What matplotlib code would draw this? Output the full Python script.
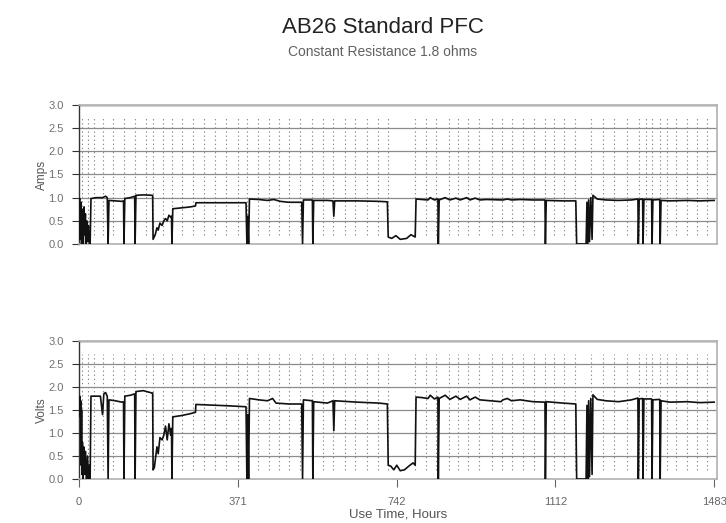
import matplotlib
matplotlib.use("Agg")
import matplotlib.pyplot as plt
import numpy as np

plt.rcParams["font.family"] = ["Liberation Sans", "DejaVu Sans"]

# Hours at which the dotted vertical markers are drawn
marker_hours = [7, 21, 35, 56, 79, 105, 131, 156, 173, 196, 217, 241, 266, 292,
                318, 343, 371, 392, 418, 444, 467, 490, 516, 544, 570, 593, 621,
                644, 673, 698, 722, 785, 810, 834, 864, 885, 908, 934, 965, 988,
                1011, 1037, 1063, 1088, 1109, 1133, 1158, 1196, 1224, 1249, 1280,
                1308, 1324, 1338, 1357, 1373, 1394, 1420, 1443, 1467]

amp_hours = [0, 2, 3, 5, 6, 8, 9, 10, 12, 13, 15, 16, 18, 20, 22, 24, 26, 28,
             40, 55, 62, 66, 68, 70, 85, 100, 104, 105, 107, 120, 130, 131, 133,
             150, 170, 172, 173, 178, 182, 185, 189, 194, 198, 202, 206, 210,
             214, 216, 217, 219, 240, 260, 272, 273, 300, 350, 390, 392, 394,
             396, 398, 420, 440, 455, 470, 490, 520, 522, 524, 545, 546, 548,
             580, 593, 595, 597, 650, 700, 720, 722, 730, 740, 750, 765, 775,
             785, 787, 800, 815, 820, 830, 838, 839, 841, 855, 866, 880, 890,
             905, 913, 925, 936, 950, 990, 1000, 1010, 1030, 1060, 1088, 1089,
             1091, 1130, 1160, 1162, 1184, 1186, 1188, 1190, 1192, 1195, 1198,
             1200, 1210, 1230, 1260, 1290, 1305, 1306, 1308, 1316, 1317, 1319,
             1337, 1338, 1340, 1356, 1357, 1359, 1380, 1420, 1450, 1483]
amps = [0.95, 0.98, 0.1, 0.9, 0.0, 0.75, 0.6, 0.0, 0.8, 0.2, 0.65, 0.0, 0.5,
        0.05, 0.4, 0.0, 0.0, 0.98,
        1.0, 1.0, 1.03, 1.0, 0.0, 0.94, 0.93, 0.92, 0.93, 0.0, 0.98, 1.0, 1.03,
        0.0, 1.05,
        1.06, 1.05, 1.05, 0.1, 0.2, 0.35, 0.3, 0.45, 0.4, 0.5, 0.55, 0.5, 0.62,
        0.58, 0.6, 0.0, 0.76, 0.78, 0.8, 0.82, 0.89, 0.89, 0.89, 0.89, 0.0,
        0.6, 0.0, 0.97, 0.96, 0.94, 0.96, 0.92, 0.9, 0.9, 0.0, 0.95, 0.95, 0.0,
        0.94, 0.94, 0.93, 0.6, 0.93, 0.93, 0.92, 0.91, 0.15, 0.12, 0.18, 0.1,
        0.12, 0.2, 0.15, 0.97, 0.96, 0.95, 1.0, 0.95, 0.97, 0.0, 0.95, 1.0,
        0.95, 0.99, 0.95, 1.0, 0.95, 0.99, 0.95, 0.96, 0.95, 0.97, 0.95, 0.96,
        0.95, 0.95, 0.0, 0.94, 0.93, 0.93, 0.0, 0.0, 0.9, 0.0, 0.95, 0.05, 1.0,
        0.1, 1.05, 0.97, 0.95, 0.94, 0.95, 0.97, 0.0, 0.96, 0.97, 0.0, 0.96,
        0.96, 0.0, 0.95, 0.96, 0.0, 0.94, 0.93, 0.94, 0.93, 0.94]

volt_hours = [0, 1, 2, 3, 4, 5, 6, 7, 8, 9, 11, 13, 15, 17, 20, 22, 24, 26, 28,
              40, 50, 55, 58, 62, 66, 68, 70, 85, 100, 104, 105, 107, 120, 130,
              131, 133, 150, 170, 172, 173, 176, 182, 185, 189, 194, 198, 202,
              206, 210, 214, 216, 217, 219, 240, 260, 272, 273, 300, 350, 390,
              392, 394, 396, 398, 420, 440, 452, 460, 490, 520, 522, 524, 545,
              546, 548, 580, 593, 595, 597, 650, 700, 720, 722, 728, 735, 742,
              750, 760, 770, 780, 785, 787, 800, 815, 820, 830, 838, 839, 841,
              855, 866, 880, 890, 905, 913, 925, 936, 960, 985, 990, 1000, 1010,
              1030, 1060, 1088, 1089, 1091, 1130, 1160, 1162, 1184, 1186, 1188,
              1190, 1192, 1195, 1198, 1200, 1210, 1230, 1260, 1290, 1305, 1306,
              1308, 1316, 1317, 1319, 1337, 1338, 1340, 1356, 1357, 1359, 1380,
              1420, 1450, 1483]
volts = [1.75, 1.4, 1.8, 1.35, 1.7, 0.3, 1.5, 0.1, 0.8, 0.0, 0.7, 0.1, 0.6,
         0.0, 0.5, 0.0, 0.3, 0.0, 1.8,
         1.8, 1.8, 1.4, 1.85, 1.88, 1.8, 0.0, 1.72, 1.7, 1.67, 1.68, 0.0, 1.8,
         1.82, 1.85, 0.0, 1.9, 1.92, 1.87, 1.87, 0.2, 0.25, 0.7, 0.55, 0.9,
         0.85, 0.95, 1.15, 0.85, 1.2, 0.95, 1.1, 0.0, 1.35, 1.38, 1.42, 1.45,
         1.62, 1.61, 1.59, 1.57, 0.0, 1.4, 0.0, 1.75, 1.72, 1.7, 1.75, 1.65,
         1.63, 1.63, 0.0, 1.72, 1.7, 0.0, 1.68, 1.65, 1.7, 1.05, 1.7, 1.67,
         1.65, 1.63, 0.3, 0.28, 0.2, 0.3, 0.18, 0.2, 0.28, 0.35, 0.3, 1.78,
         1.77, 1.75, 1.82, 1.74, 1.78, 0.0, 1.75, 1.82, 1.73, 1.8, 1.73, 1.8,
         1.72, 1.78, 1.72, 1.7, 1.68, 1.72, 1.75, 1.7, 1.72, 1.68, 1.67, 0.0,
         1.68, 1.65, 1.63, 0.0, 0.0, 1.6, 0.0, 1.7, 0.05, 1.75, 0.1, 1.83, 1.73,
         1.7, 1.68, 1.72, 1.76, 0.0, 1.74, 1.75, 0.0, 1.74, 1.74, 0.0, 1.72,
         1.73, 0.0, 1.7, 1.67, 1.68, 1.66, 1.67]

x_ticks = [0, 371, 742, 1112, 1483]
y_ticks = [0.0, 0.5, 1.0, 1.5, 2.0, 2.5, 3.0]

fig = plt.figure(figsize=(7.26, 5.23), dpi=100)
fig.patch.set_facecolor("white")

fig.text(0.527, 0.948, "AB26 Standard PFC", ha="center", va="center",
         fontsize=16, color="#222222")
fig.text(0.527, 0.900, "Constant Resistance 1.8 ohms", ha="center",
         va="center", fontsize=10, color="#606060")


def style_axes(ax, ylabel, show_x):
    ax.set_xlim(0, 1490)
    ax.set_ylim(0, 3.0)
    ax.set_yticks(y_ticks)
    ax.set_yticklabels([f"{t:.1f}" for t in y_ticks])
    for y in y_ticks[1:-1]:
        ax.axhline(y, color="#8c8c8c", lw=0.9, zorder=1)
    ax.axhline(3.0, color="#cccccc", lw=2.0, zorder=1)
    ax.vlines(marker_hours, 0.2, 2.72, colors="#8a8a8a", lw=0.8,
              linestyles=(0, (1.2, 2.5)), zorder=1)
    for side in ["top", "right", "bottom"]:
        ax.spines[side].set_color("#b0b0b0")
        ax.spines[side].set_linewidth(1.2)
    ax.spines["left"].set_color("#333333")
    ax.spines["left"].set_linewidth(1.0)
    ax.tick_params(axis="y", direction="out", length=5, width=0.8,
                   colors="#333333", labelcolor="#707070", labelsize=8,
                   pad=6)
    ax.set_ylabel(ylabel, fontsize=8.5, color="#555555")
    ax.yaxis.set_label_coords(-0.048, 0.5)
    if show_x:
        ax.set_xticks(x_ticks)
        ax.set_xticklabels([str(t) for t in x_ticks])
        ax.tick_params(axis="x", direction="out", length=6, width=0.8,
                       colors="#666666", labelsize=8, pad=7)
        ax.set_xlabel("Use Time, Hours", fontsize=9.5, color="#555555",
                      labelpad=1)
    else:
        ax.set_xticks([])


ax1 = fig.add_axes([0.1088, 0.5335, 0.879, 0.2658])
ax1.plot(amp_hours, amps, color="#111111", lw=1.2, zorder=3)
style_axes(ax1, "Amps", False)

ax2 = fig.add_axes([0.1088, 0.0841, 0.879, 0.264])
ax2.plot(volt_hours, volts, color="#111111", lw=1.2, zorder=3)
style_axes(ax2, "Volts", True)

fig.savefig("out.png", dpi=100, facecolor="white")
